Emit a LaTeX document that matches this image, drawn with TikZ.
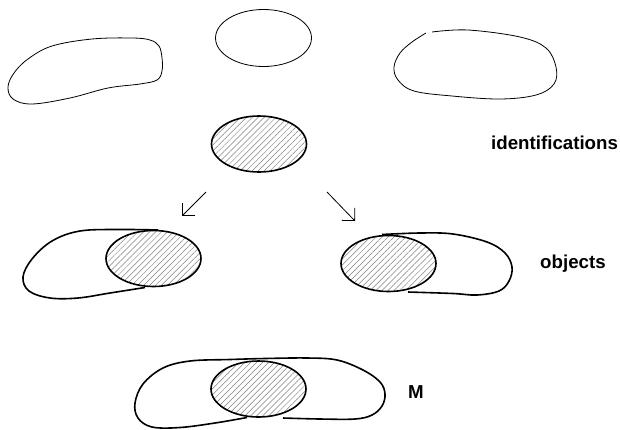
\documentclass[tikz,border=0pt]{standalone}
\usepackage{fontspec}
\newfontfamily\labelfont{Liberation Sans}
\usetikzlibrary{shapes.geometric,patterns.meta,arrows.meta}
\tikzstyle{plainset} = [draw,ellipse,line width=0.8pt,inner sep=0pt,
    minimum width=96pt,minimum height=57pt]
\tikzstyle{identset} = [draw,ellipse,line width=1.6pt,inner sep=0pt,
    minimum width=95pt,minimum height=56pt,
    pattern={Lines[angle=45,distance=4.2pt,line width=0.5pt]},pattern color=black!50]
\tikzstyle{thinblob} = [line width=0.8pt]
\tikzstyle{thickblob} = [line width=1.6pt]
\tikzstyle{maparrow} = [line width=0.8pt,-{Straight Barb[length=9pt,width=18pt,line width=0.8pt]}]
\tikzstyle{setlabel} = [inner sep=0pt,anchor=base west,font=\labelfont\bfseries\fontsize{18.7}{20}\selectfont]
\newcommand{\blob}[2]{
    \draw[#1] plot[smooth,tension=0.6] coordinates {#2};
}

\begin{document}
\begin{tikzpicture}[x=1pt,y=-1pt]
	\useasboundingbox (0,0) rectangle (620,429);
	
	\draw[thinblob] plot[smooth cycle,tension=0.6] coordinates {(132,38) (150,40) (159,46) (162,58) (162,71) (157,80) (140,84) (108,88) (70,98) (32,104) (13,99) (8,87) (14,73) (28,59) (52,46) (92,39)};
	\node(rawmid) at (263.5,38) [plainset] {};
	\blob{thinblob}{(432,32) (468,30) (520,37) (546,48) (556,67) (554,84) (536,95) (500,99) (452,96) (414,91) (398,80) (394,67) (400,53) (412,42) (426,33)}
	
	\node(ident) at (259,144) [identset] {};
	\node(identtext) at (491,149) [setlabel] {identifications};
	
	\coordinate(toleftA) at (206,192);
	\coordinate(toleftB) at (182,216);
	\coordinate(torightA) at (327,192);
	\coordinate(torightB) at (355,221);
	\draw[maparrow] (toleftA) -- (toleftB);
	\draw[maparrow] (torightA) -- (torightB);
	
	\blob{thickblob}{(158,230) (120,229.5) (80,231) (52,241) (32,259) (23,277) (29,291) (50,298) (78,298) (110,293) (145,287.5)}
	\node(objleft) at (153.5,258.5) [identset] {};
	
	\blob{thickblob}{(382,234.5) (420,233) (453,234) (487,242) (505,253) (512,267) (509,281) (499,291) (477,295) (453,293.5) (408,292)}
	\node(objright) at (388.5,263.5) [identset] {};
	\node(objtext) at (540,268) [setlabel] {objects};
	
	\blob{thickblob}{(247,417.5) (215,423) (180,427.5) (152,427) (138,418) (135,403) (143,384) (163,368) (190,361) (230,359.5) (265,358.5) (307,358) (337,360) (363,370) (380,382) (385,394) (382,406) (372,415) (355,419) (320,419) (283,418)}
	\node(merged) at (258.5,389) [identset] {};
	\node(mtext) at (408,398) [setlabel] {M};
\end{tikzpicture}
\end{document}
